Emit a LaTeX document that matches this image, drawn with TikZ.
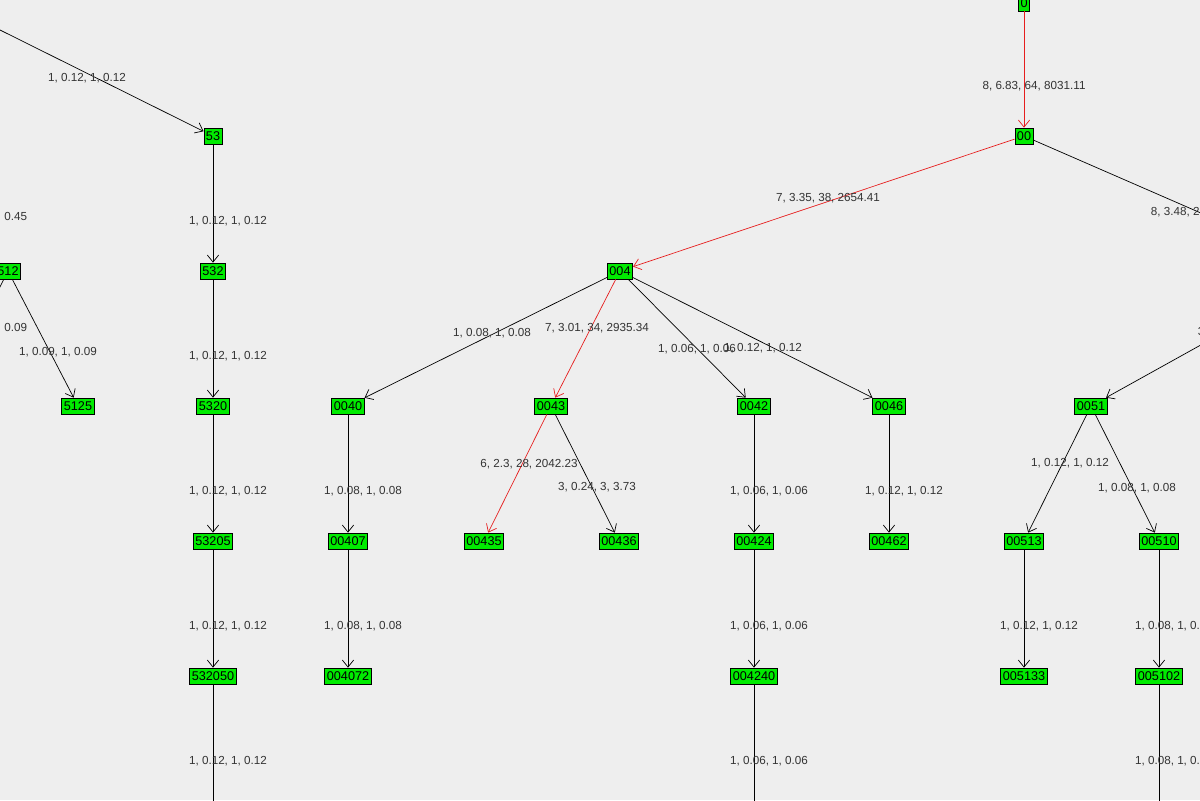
\documentclass[tikz,border=0pt]{standalone}
\usepackage{fontspec}
\setmainfont{Liberation Sans}
\usetikzlibrary{arrows.meta}
\definecolor{canvas}{RGB}{238,238,238}
\definecolor{vertex}{RGB}{0,235,0}
\definecolor{pathred}{RGB}{230,30,30}
\tikzset{
  vert/.style={draw, fill=vertex, line width=0.5pt, inner sep=1.5pt, minimum height=0.4cm, font=\fontsize{9}{10}\selectfont},
  link/.style={-{Straight Barb[length=5pt,width=8pt]}, line width=0.5pt},
  hot/.style={link, draw=pathred},
  wt/.style={font=\fontsize{8.3}{9}\selectfont, text=black!80}
}
\newcommand{\wlabel}[3]{\node[wt] at (#1,#2) {#3};}
\begin{document}
\begin{tikzpicture}[x=0.025cm, y=-0.025cm]
    \fill[canvas] (0,0) rectangle (1200,800);
    \useasboundingbox (0,0) rectangle (1200,800);
    \clip (0,0) rectangle (1200,800);

    % nodes
    \node[vert] (n0) at (1024,3) {0};
    \node[vert] (n00) at (1024,136) {00};
    \node[vert] (n53) at (213,136) {53};
    \node[vert] (n512) at (8,271) {512};
    \node[vert] (n532) at (213,271) {532};
    \node[vert] (n004) at (620,271) {004};
    \node[vert] (n5125) at (78,406) {5125};
    \node[vert] (n5320) at (213,406) {5320};
    \node[vert] (n0040) at (348,406) {0040};
    \node[vert] (n0043) at (551,406) {0043};
    \node[vert] (n0042) at (754,406) {0042};
    \node[vert] (n0046) at (889,406) {0046};
    \node[vert] (n0051) at (1091,406) {0051};
    \node[vert] (n53205) at (213,541) {53205};
    \node[vert] (n00407) at (348,541) {00407};
    \node[vert] (n00435) at (484,541) {00435};
    \node[vert] (n00436) at (619,541) {00436};
    \node[vert] (n00424) at (754,541) {00424};
    \node[vert] (n00462) at (889,541) {00462};
    \node[vert] (n00513) at (1024,541) {00513};
    \node[vert] (n00510) at (1159,541) {00510};
    \node[vert] (n532050) at (213,676) {532050};
    \node[vert] (n004072) at (348,676) {004072};
    \node[vert] (n004240) at (754,676) {004240};
    \node[vert] (n005133) at (1024,676) {005133};
    \node[vert] (n005102) at (1159,676) {005102};

    % ends beyond the frame
    \coordinate (p53) at (-213,-76);
    \coordinate (p512) at (-200,110);
    \coordinate (c512) at (-60,406);
    \coordinate (n005) at (1334,271);
    \coordinate (d532050) at (213,830);
    \coordinate (d004240) at (754,830);
    \coordinate (d005102) at (1159,830);

    % red path
    \draw[hot] (n0) -- (n00);
    \draw[hot] (n00) -- (n004);
    \draw[hot] (n004) -- (n0043);
    \draw[hot] (n0043) -- (n00435);

    % other edges
    \draw[link] (p53) -- (n53);
    \draw[link] (n53) -- (n532);
    \draw[link] (n532) -- (n5320);
    \draw[link] (n5320) -- (n53205);
    \draw[link] (n53205) -- (n532050);
    \draw[line width=0.5pt] (n532050) -- (d532050);
    \draw[link] (p512) -- (n512);
    \draw[line width=0.5pt] (n512) -- (c512);
    \draw[link] (n512) -- (n5125);
    \draw[link] (n004) -- (n0040);
    \draw[link] (n004) -- (n0042);
    \draw[link] (n004) -- (n0046);
    \draw[link] (n0040) -- (n00407);
    \draw[link] (n00407) -- (n004072);
    \draw[link] (n0043) -- (n00436);
    \draw[link] (n0042) -- (n00424);
    \draw[link] (n00424) -- (n004240);
    \draw[line width=0.5pt] (n004240) -- (d004240);
    \draw[link] (n0046) -- (n00462);
    \draw[line width=0.5pt] (n00) -- (n005);
    \draw[link] (n005) -- (n0051);
    \draw[link] (n0051) -- (n00513);
    \draw[link] (n0051) -- (n00510);
    \draw[link] (n00513) -- (n005133);
    \draw[link] (n00510) -- (n005102);
    \draw[line width=0.5pt] (n005102) -- (d005102);

    % weights
    \wlabel{1034}{86}{8, 6.83, 64, 8031.11}
    \wlabel{828}{198}{7, 3.35, 38, 2654.41}
    \node[wt, anchor=west] at (1146,212) {8, 3.48, 26};
    \node[wt, anchor=west] at (1193,332) {3, 1.02};
    \wlabel{492}{333}{1, 0.08, 1, 0.08}
    \wlabel{597}{328}{7, 3.01, 34, 2935.34}
    \wlabel{697}{349}{1, 0.06, 1, 0.06}
    \wlabel{763}{348}{1, 0.12, 1, 0.12}
    \wlabel{529}{464}{6, 2.3, 28, 2042.23}
    \wlabel{597}{487}{3, 0.24, 3, 3.73}
    \wlabel{363}{491}{1, 0.08, 1, 0.08}
    \wlabel{363}{626}{1, 0.08, 1, 0.08}
    \wlabel{769}{491}{1, 0.06, 1, 0.06}
    \wlabel{769}{626}{1, 0.06, 1, 0.06}
    \wlabel{769}{761}{1, 0.06, 1, 0.06}
    \wlabel{904}{491}{1, 0.12, 1, 0.12}
    \wlabel{1070}{463}{1, 0.12, 1, 0.12}
    \wlabel{1137}{488}{1, 0.08, 1, 0.08}
    \wlabel{1039}{626}{1, 0.12, 1, 0.12}
    \wlabel{1174}{626}{1, 0.08, 1, 0.08}
    \wlabel{1174}{761}{1, 0.08, 1, 0.08}
    \wlabel{87}{78}{1, 0.12, 1, 0.12}
    \wlabel{228}{221}{1, 0.12, 1, 0.12}
    \wlabel{228}{356}{1, 0.12, 1, 0.12}
    \wlabel{228}{491}{1, 0.12, 1, 0.12}
    \wlabel{228}{626}{1, 0.12, 1, 0.12}
    \wlabel{228}{761}{1, 0.12, 1, 0.12}
    \node[wt, anchor=east] at (32,217) {1, 0.45, 1, 0.45};
    \node[wt, anchor=east] at (32,328) {1, 0.09, 1, 0.09};
    \wlabel{58}{352}{1, 0.09, 1, 0.09}
\end{tikzpicture}
\end{document}
